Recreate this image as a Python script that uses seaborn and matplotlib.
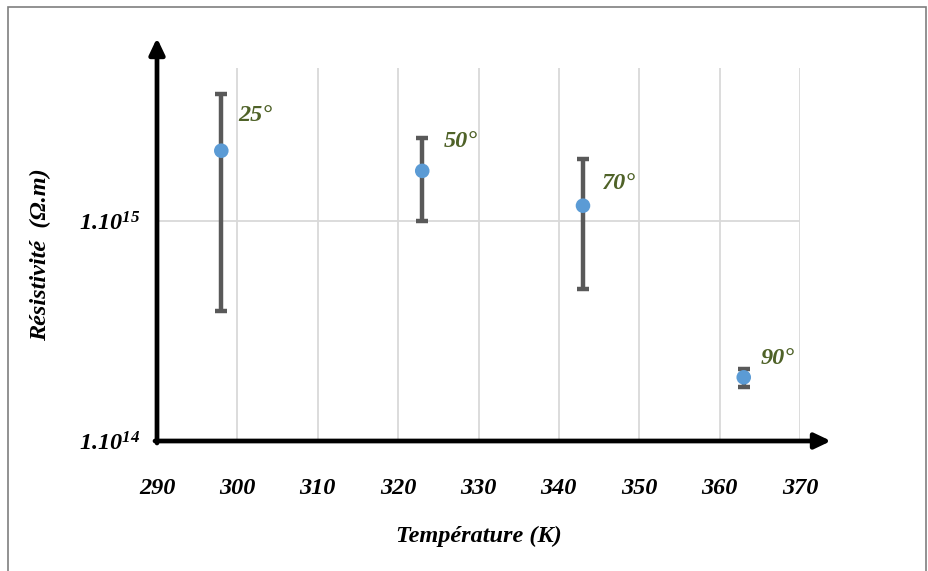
import numpy as np
import matplotlib.pyplot as plt
import seaborn as sns
import pandas as pd
from matplotlib.patches import Rectangle

# temperatures (K), resistivity (Ohm.m) and error bar limits
temperature = [298, 323, 343, 363]
resistivity = [2.1e15, 1.7e15, 1.18e15, 1.95e14]
err_high = [3.8e15, 2.4e15, 1.92e15, 2.13e14]
err_low = [3.9e14, 1.0e15, 4.9e14, 1.77e14]
point_labels = ["25°", "50°", "70°", "90°"]
x_ticks = [290, 300, 310, 320, 330, 340, 350, 360, 370]
y_ticks = [1e14, 1e15]
y_tick_labels = ["1.10$^{14}$", "1.10$^{15}$"]

data = pd.DataFrame({"T": temperature, "rho": resistivity})

sns.set_theme(style="white")
plt.rcParams["font.family"] = ["Liberation Serif", "DejaVu Serif"]
plt.rcParams["text.color"] = "black"
plt.rcParams["xtick.color"] = "black"
plt.rcParams["ytick.color"] = "black"
plt.rcParams["axes.labelcolor"] = "black"
plt.rcParams["mathtext.fontset"] = "custom"
plt.rcParams["mathtext.rm"] = "Liberation Serif:bold:italic"
plt.rcParams["mathtext.it"] = "Liberation Serif:bold:italic"
plt.rcParams["mathtext.bf"] = "Liberation Serif:bold:italic"

fig = plt.figure(figsize=(9.29, 5.71), dpi=100)
ax = fig.add_axes([157 / 929, 1 - 441 / 571, (800 - 157) / 929, (441 - 68) / 571])

ax.set_yscale("log")
ax.set_xlim(290, 370)
ax.set_ylim(1e14, 5e15)

# grid
for xv in x_ticks[1:]:
    ax.axvline(xv, color="#d9d9d9", lw=1.3, zorder=0)
ax.axhline(1e15, color="#d9d9d9", lw=1.3, zorder=0)

# error bars
yerr = [np.array(resistivity) - np.array(err_low), np.array(err_high) - np.array(resistivity)]
ax.errorbar(temperature, resistivity, yerr=yerr, fmt="none", ecolor="#595959",
            elinewidth=3.2, capsize=4.2, capthick=3.2, zorder=2)

sns.scatterplot(data=data, x="T", y="rho", ax=ax, color="#5b9bd5", s=110,
                edgecolor="none", zorder=3)

label_offsets = [(34, 35), (38, 29), (36, 22), (34, 19)]
for t, r, lab, off in zip(temperature, resistivity, point_labels, label_offsets):
    ax.annotate(lab, (t, r), xytext=off, textcoords="offset pixels",
                ha="center", va="center", color="#4f6228", fontsize=17.5,
                fontweight="bold", fontstyle="italic")

ax.set_xticks(x_ticks)
ax.set_xticklabels([str(v) for v in x_ticks], fontsize=17.5, fontweight="bold",
                   fontstyle="italic")
ax.set_yticks(y_ticks)
ax.set_yticklabels(y_tick_labels, fontsize=17.5, fontweight="bold", fontstyle="italic")
ax.yaxis.set_minor_locator(plt.NullLocator())
ax.tick_params(axis="x", length=0, pad=27)
ax.tick_params(axis="y", length=0, pad=12)

ax.set_xlabel("Température (K)", fontsize=17.5, fontweight="bold", fontstyle="italic",
              labelpad=19)
ax.set_ylabel("Résistivité  (Ω.m)", fontsize=17.5, fontweight="bold", fontstyle="italic",
              labelpad=20)

for s in ax.spines.values():
    s.set_visible(False)

# axis arrows
ax.annotate("", xy=(831 / 929, 1 - 441 / 571), xytext=(155 / 929, 1 - 441 / 571),
            xycoords="figure fraction",
            arrowprops=dict(arrowstyle="-|>,head_length=0.8,head_width=0.38",
                            color="black", lw=3.4, shrinkA=0, shrinkB=0))
ax.annotate("", xy=(157 / 929, 1 - 38 / 571), xytext=(157 / 929, 1 - 443 / 571),
            xycoords="figure fraction",
            arrowprops=dict(arrowstyle="-|>,head_length=0.8,head_width=0.38",
                            color="black", lw=3.4, shrinkA=0, shrinkB=0))

# outer frame
fig.patches.append(Rectangle((8 / 929, -0.01), (926 - 8) / 929, 1 - 7 / 571 + 0.01,
                             transform=fig.transFigure, fill=False,
                             edgecolor="#7f7f7f", lw=1.2))

fig.savefig("out.png", dpi=100)
